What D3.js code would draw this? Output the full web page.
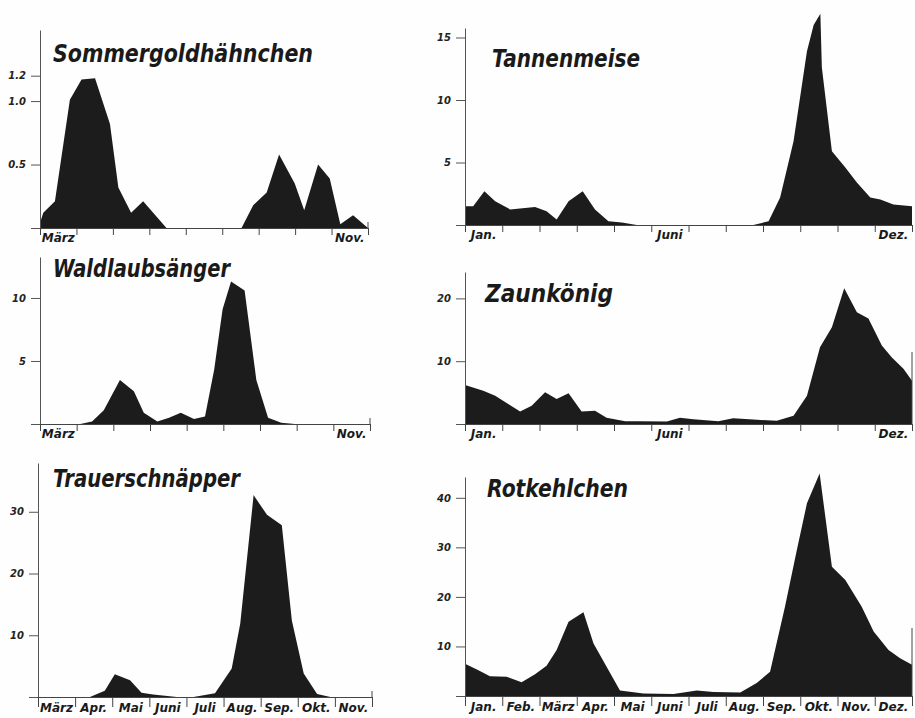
<!DOCTYPE html>
<html>
<head>
<meta charset="utf-8">
<script src="https://cdn.jsdelivr.net/npm/d3@7"></script>
<style>
  body { margin: 0; background: #fff; }
  svg { display: block; }
  .tick text { font-family: 'DejaVu Sans', sans-serif; font-weight: bold; font-style: oblique; }
</style>
</head>
<body>
<script>
let width = 915
let height = 718

// month positions (0 = start of first month shown) and counts per decade
let sommerX = [0, 0.09, 0.41, 0.82, 1.14, 1.51, 1.92, 2.15, 2.5, 2.83, 3.47, 5.53, 5.85, 6.22, 6.56, 6.99, 7.25, 7.63, 7.95, 8.24, 8.59, 9]
let sommerY = [0.04, 0.12, 0.21, 1.01, 1.17, 1.18, 0.82, 0.32, 0.12, 0.21, 0, 0, 0.18, 0.28, 0.58, 0.35, 0.14, 0.5, 0.39, 0.03, 0.1, 0]

let waldX = [0, 1.1, 1.42, 1.74, 2.18, 2.56, 2.83, 3.2, 3.52, 3.84, 4.2, 4.5, 4.75, 4.98, 5.21, 5.58, 5.9, 6.22, 6.58, 6.95, 9]
let waldY = [0, 0, 0.2, 1.1, 3.5, 2.6, 0.9, 0.2, 0.5, 0.9, 0.4, 0.6, 4.3, 9.1, 11.3, 10.6, 3.5, 0.5, 0.1, 0, 0]

let trauerX = [0, 1.4, 1.8, 2.07, 2.48, 2.79, 3.1, 3.74, 4.19, 4.77, 5.22, 5.45, 5.81, 6.17, 6.57, 6.84, 7.16, 7.52, 7.88, 9]
let trauerY = [0, 0, 1.0, 3.7, 2.7, 0.7, 0.4, 0, 0, 0.6, 4.6, 11.9, 32.7, 29.5, 27.8, 12.4, 3.8, 0.5, 0, 0]

let tanneX = [0, 0.22, 0.52, 0.81, 1.21, 1.88, 2.19, 2.46, 2.78, 3.16, 3.49, 3.85, 4.21, 4.61, 7.74, 8.15, 8.46, 8.82, 9.18, 9.36, 9.54, 9.58, 9.85, 10.21, 10.52, 10.88, 11.15, 11.5, 12]
let tanneY = [1.5, 1.5, 2.7, 1.9, 1.25, 1.45, 1.1, 0.45, 1.9, 2.7, 1.25, 0.3, 0.2, 0, 0, 0.3, 2.2, 6.7, 13.9, 16.0, 16.9, 12.6, 5.9, 4.6, 3.4, 2.2, 2.05, 1.65, 1.5]

let zaunX = [0, 0.49, 0.81, 1.16, 1.48, 1.79, 2.15, 2.46, 2.78, 3.13, 3.49, 3.8, 4.3, 4.7, 5.42, 5.77, 6.13, 6.8, 7.2, 7.74, 8.37, 8.82, 9.18, 9.53, 9.85, 10.18, 10.52, 10.83, 11.19, 11.46, 11.77, 12]
let zaunY = [6.2, 5.3, 4.5, 3.2, 2.0, 2.9, 5.05, 4.0, 4.9, 2.0, 2.1, 1.0, 0.45, 0.45, 0.4, 1.0, 0.75, 0.45, 0.9, 0.7, 0.5, 1.3, 4.5, 12.2, 15.4, 21.6, 17.8, 16.8, 12.5, 10.6, 8.8, 6.9]

let rotX = [0, 0.36, 0.67, 1.12, 1.52, 1.88, 2.19, 2.46, 2.78, 3.18, 3.45, 4.16, 4.79, 5.6, 6.22, 6.67, 7.39, 7.83, 8.19, 8.59, 8.91, 9.18, 9.52, 9.85, 10.21, 10.65, 10.97, 11.37, 11.68, 12]
let rotY = [6.5, 5.2, 4.0, 3.9, 2.8, 4.4, 6.1, 9.3, 15.0, 16.9, 10.6, 1.1, 0.5, 0.4, 1.1, 0.8, 0.7, 2.6, 4.9, 18.0, 29.5, 38.9, 44.9, 26.1, 23.4, 18.0, 13.0, 9.3, 7.6, 6.3]

let monthsMarNov = ['März', 'Apr.', 'Mai', 'Juni', 'Juli', 'Aug.', 'Sep.', 'Okt.', 'Nov.']
let monthsYear = ['Jan.', 'Feb.', 'März', 'Apr.', 'Mai', 'Juni', 'Juli', 'Aug.', 'Sep.', 'Okt.', 'Nov.', 'Dez.']

let panels = [
  { title: 'Sommergoldhähnchen', xs: sommerX, ys: sommerY, x0: 40, x1: 368, base: 228, top: 30, ymax: 1.56,
    ticks: [0, 0.5, 1.0, 1.2], fmt: d3.format('.1f'), months: monthsMarNov, show: [0, 8],
    tx: 53, ty: 62, tw: 260, endTick: 6, xTick: 7 },
  { title: 'Waldlaubsänger', xs: waldX, ys: waldY, x0: 40, x1: 370, base: 424, top: 257, ymax: 13.25,
    ticks: [0, 5, 10], fmt: d3.format('d'), months: monthsMarNov, show: [0, 8],
    tx: 53, ty: 277, tw: 177, endTick: 6, xTick: 7 },
  { title: 'Trauerschnäpper', xs: trauerX, ys: trauerY, x0: 38, x1: 372, base: 697, top: 463, ymax: 37.9,
    ticks: [0, 10, 20, 30], fmt: d3.format('d'), months: monthsMarNov, show: d3.range(9),
    tx: 53, ty: 487, tw: 187, endTick: 6, xTick: 10 },
  { title: 'Tannenmeise', xs: tanneX, ys: tanneY, x0: 465, x1: 912, base: 225, top: 28, ymax: 15.76,
    ticks: [0, 5, 10, 15], fmt: d3.format('d'), months: monthsYear, show: [0, 5, 11],
    tx: 492, ty: 67, tw: 148, endTick: 0, xTick: 7 },
  { title: 'Zaunkönig', xs: zaunX, ys: zaunY, x0: 465, x1: 912, base: 424, top: 272, ymax: 24.2,
    ticks: [0, 10, 20], fmt: d3.format('d'), months: monthsYear, show: [0, 5, 11],
    tx: 485, ty: 302, tw: 128, endTick: 72, xTick: 7 },
  { title: 'Rotkehlchen', xs: rotX, ys: rotY, x0: 465, x1: 912, base: 696, top: 477, ymax: 44.2,
    ticks: [0, 10, 20, 30, 40], fmt: d3.format('d'), months: monthsYear, show: d3.range(12),
    tx: 487, ty: 497, tw: 141, endTick: 68, xTick: 10 }
]

let svg = d3.select('body').append('svg')
  .attr('width', width)
  .attr('height', height)

svg.append('rect').attr('width', width).attr('height', height).attr('fill', '#fefefe')

panels.forEach(function(p) {
  let n = p.months.length
  let x = d3.scaleLinear().domain([0, n]).range([p.x0, p.x1])
  let y = d3.scaleLinear().domain([0, p.ymax]).range([p.base, p.top])
  let g = svg.append('g')

  let area = d3.area()
    .x(function(d) { return x(d[0]) })
    .y0(y(0))
    .y1(function(d) { return y(d[1]) })

  g.append('path')
    .datum(d3.zip(p.xs, p.ys))
    .attr('d', area)
    .attr('fill', '#1c1c1c')

  // y axis
  let ya = g.append('g')
    .attr('transform', 'translate(' + p.x0 + ',0)')
    .call(d3.axisLeft(y).tickValues(p.ticks).tickSize(9).tickSizeOuter(0)
      .tickFormat(function(d) { return d === 0 ? '' : p.fmt(d) }))
  ya.selectAll('text').attr('font-size', 10).attr('fill', '#222').attr('dx', -2)
  ya.selectAll('line, path').attr('stroke', '#555')

  // x axis
  let xa = g.append('g')
    .attr('transform', 'translate(0,' + p.base + ')')
    .call(d3.axisBottom(x).tickValues(d3.range(n + 1)).tickSize(p.xTick).tickSizeOuter(0).tickFormat(''))
  xa.selectAll('line, path').attr('stroke', '#444')

  if (p.endTick) {
    g.append('line')
      .attr('x1', x(n)).attr('x2', x(n))
      .attr('y1', p.base).attr('y2', p.base - p.endTick)
      .attr('stroke', '#444')
  }

  g.selectAll('text.month')
    .data(p.show)
    .enter().append('text')
    .attr('class', 'month')
    .attr('x', function(i) { return x(i + 0.5) })
    .attr('y', p.base + (p.xTick > 7 ? 15 : 14))
    .attr('text-anchor', 'middle')
    .attr('font-family', 'DejaVu Sans, sans-serif')
    .attr('font-weight', 'bold')
    .attr('font-style', 'oblique')
    .attr('font-size', 12)
    .attr('fill', '#1a1a1a')
    .text(function(i) { return p.months[i] })

  g.append('text')
    .attr('x', p.tx)
    .attr('y', p.ty)
    .attr('font-family', 'DejaVu Sans, sans-serif')
    .attr('font-weight', 'bold')
    .attr('font-style', 'oblique')
    .attr('font-size', 24)
    .attr('textLength', p.tw)
    .attr('lengthAdjust', 'spacingAndGlyphs')
    .attr('fill', '#1a1a1a')
    .text(p.title)
})
</script>
</body>
</html>
